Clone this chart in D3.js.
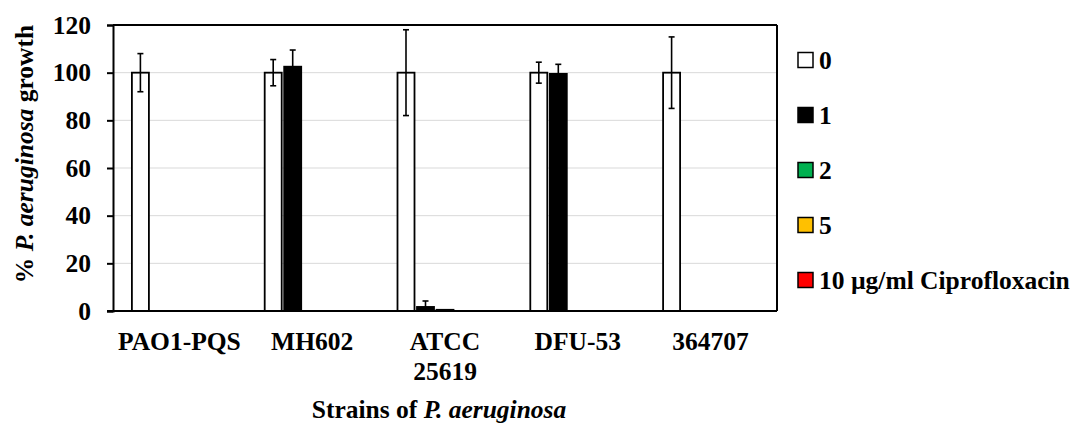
<!DOCTYPE html>
<html>
<head>
<meta charset="utf-8">
<script src="https://cdn.jsdelivr.net/npm/d3@7"></script>
<style>
  html, body { margin: 0; padding: 0; background: #fff; }
  svg { display: block; }
</style>
</head>
<body>
<svg id="chart" width="1078" height="423"></svg>
<script>
const categories = ["PAO1-PQS", "MH602", "ATCC 25619", "DFU-53", "364707"];
const seriesNames = ["0", "1", "2", "5", "10 µg/ml Ciprofloxacin"];
const seriesColors = ["#ffffff", "#000000", "#00b050", "#ffc000", "#ff0000"];
const values0 = [100, 100, 100, 100, 100];
const errors0 = [8, 5.5, 18, 4.4, 15];
const values1 = [0, 102.5, 1.7, 99.5, 0];
const errors1 = [0, 7, 2.5, 4, 0];
const values2 = [0, 0, 0.5, 0, 0];
const errors2 = [0, 0, 0, 0, 0];
const values5 = [0, 0, 0, 0, 0];
const errors5 = [0, 0, 0, 0, 0];
const values10 = [0, 0, 0, 0, 0];
const errors10 = [0, 0, 0, 0, 0];
const yTicks = [0, 20, 40, 60, 80, 100, 120];

const seriesValues = [values0, values1, values2, values5, values10];
const seriesErrors = [errors0, errors1, errors2, errors5, errors10];

const FONT = "font-family:'Liberation Serif','Times New Roman',serif;font-weight:bold;font-size:25.5px;fill:#000";

const svg = d3.select("#chart");
const mLeft = 113, mRight = 777, mTop = 25, mBottom = 311;

const x0 = d3.scaleBand().domain(categories).range([mLeft, mRight]).padding(0);
const half = 48.75;
const x1 = d3.scaleBand().domain(seriesNames)
  .range([x0.bandwidth() / 2 - half, x0.bandwidth() / 2 + half])
  .paddingInner(0.128).paddingOuter(0.064);
const y = d3.scaleLinear().domain([0, 120]).range([mBottom, mTop]);

// gridlines
svg.append("g").selectAll("line").data(yTicks.filter(d => d > 0 && d < 120)).join("line")
  .attr("x1", mLeft).attr("x2", mRight)
  .attr("y1", d => y(d)).attr("y2", d => y(d))
  .attr("stroke", "#d9d9d9").attr("stroke-width", 1);

// bars
const rows = [];
categories.forEach((c, ci) => {
  seriesNames.forEach((s, si) => {
    rows.push({ c, s, si, v: seriesValues[si][ci], e: seriesErrors[si][ci] });
  });
});

svg.append("g").selectAll("rect").data(rows.filter(d => d.v > 0)).join("rect")
  .attr("x", d => x0(d.c) + x1(d.s))
  .attr("width", x1.bandwidth())
  .attr("y", d => y(d.v))
  .attr("height", d => y(0) - y(d.v))
  .attr("fill", d => seriesColors[d.si])
  .attr("stroke", "#000").attr("stroke-width", 1.8);

// error bars
const eg = svg.append("g").attr("stroke", "#000").attr("stroke-width", 1.6);
rows.filter(d => d.e > 0).forEach(d => {
  const cx = x0(d.c) + x1(d.s) + x1.bandwidth() / 2;
  const lo = Math.max(0, d.v - d.e), hi = d.v + d.e;
  eg.append("line").attr("x1", cx).attr("x2", cx).attr("y1", y(lo)).attr("y2", y(hi));
  eg.append("line").attr("x1", cx - 3).attr("x2", cx + 3).attr("y1", y(hi)).attr("y2", y(hi));
  eg.append("line").attr("x1", cx - 3).attr("x2", cx + 3).attr("y1", y(lo)).attr("y2", y(lo));
});

// plot frame (top and right)
svg.append("line").attr("x1", mLeft).attr("x2", mRight).attr("y1", mTop).attr("y2", mTop)
  .attr("stroke", "#000").attr("stroke-width", 2);
svg.append("line").attr("x1", mRight).attr("x2", mRight).attr("y1", mTop).attr("y2", mBottom)
  .attr("stroke", "#000").attr("stroke-width", 2);

// y axis
const yAxis = d3.axisLeft(y).tickValues(yTicks).tickSize(6).tickPadding(16);
const gy = svg.append("g").attr("transform", `translate(${mLeft},0)`).call(yAxis);
gy.select(".domain").attr("stroke", "#000").attr("stroke-width", 2);
gy.selectAll(".tick line").attr("stroke", "#000").attr("stroke-width", 2);
gy.selectAll(".tick text").attr("style", FONT);

// x axis baseline
const xAxis = d3.axisBottom(x0).tickSize(0).tickFormat("");
const gx = svg.append("g").attr("transform", `translate(0,${mBottom})`).call(xAxis);
gx.select(".domain").attr("stroke", "#000").attr("stroke-width", 2)
  .attr("d", `M${mLeft - 6},0H${mRight}`);

// x labels
const lab = svg.append("g").selectAll("text").data(categories).join("text")
  .attr("x", d => x0(d) + x0.bandwidth() / 2)
  .attr("y", 350)
  .attr("text-anchor", "middle")
  .attr("style", FONT);
lab.each(function(d) {
  const parts = d.split(" ");
  const t = d3.select(this);
  parts.forEach((p, i) => {
    t.append("tspan").attr("x", x0(d) + x0.bandwidth() / 2).attr("dy", i === 0 ? 0 : 30).text(p);
  });
});

// x title
const xt = svg.append("text").attr("x", 439).attr("y", 418).attr("text-anchor", "middle")
  .attr("style", FONT);
xt.append("tspan").text("Strains of ");
xt.append("tspan").style("font-style", "italic").text("P. aeruginosa");

// y title
const yt = svg.append("text").attr("transform", "translate(33,154) rotate(-90)")
  .attr("text-anchor", "middle").attr("style", FONT);
yt.append("tspan").text("% ");
yt.append("tspan").style("font-style", "italic").text("P. aeruginosa");
yt.append("tspan").text(" growth");

// legend
const leg = svg.append("g").selectAll("g").data(seriesNames).join("g")
  .attr("transform", (d, i) => `translate(798,${60 + i * 55})`);
leg.append("rect").attr("x", 0).attr("y", -7.5).attr("width", 15).attr("height", 15)
  .attr("fill", (d, i) => seriesColors[i]).attr("stroke", "#000").attr("stroke-width", 1.5);
leg.append("text").attr("x", 21).attr("y", 0).attr("dy", "0.35em")
  .attr("style", FONT).text(d => d);
</script>
</body>
</html>
